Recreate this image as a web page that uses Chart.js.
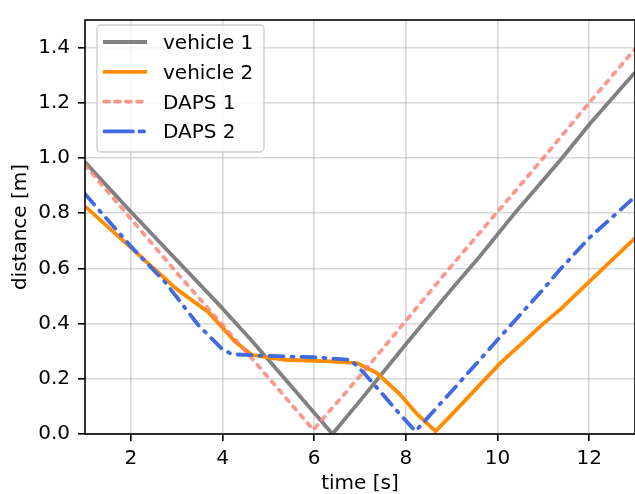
<!DOCTYPE html>
<html>
<head>
<meta charset="utf-8">
<script src="https://cdn.jsdelivr.net/npm/chart.js@4/dist/chart.umd.min.js"></script>
<style>
html,body{margin:0;padding:0;background:#fff;}
#wrap{width:635px;height:494px;position:relative;}
</style>
</head>
<body>
<div id="wrap"><canvas id="c" width="635" height="494"></canvas></div>
<script>
// ---- data ----
const xTicks = [2, 4, 6, 8, 10, 12];
const yTicks = [0.0, 0.2, 0.4, 0.6, 0.8, 1.0, 1.2, 1.4];
const seriesNames = ['vehicle 1', 'vehicle 2', 'DAPS 1', 'DAPS 2'];

const vehicle1Time = [1, 2, 3, 4, 4.6, 5.36, 6.0, 6.4, 7, 8, 9, 9.62, 10.35, 11, 11.36, 12.02, 13];
const vehicle1Dist = [0.985, 0.805, 0.63, 0.455, 0.345, 0.2, 0.077, 0.0, 0.12, 0.325, 0.525, 0.645, 0.795, 0.92, 0.99, 1.125, 1.31];

const vehicle2Time = [1, 2, 3, 3.7, 4.27, 4.64, 5.36, 6.35, 6.93, 7.36, 7.87, 8.24, 8.65, 9, 10.05, 11, 11.36, 12.02, 13];
const vehicle2Dist = [0.825, 0.675, 0.525, 0.44, 0.335, 0.287, 0.269, 0.263, 0.257, 0.222, 0.144, 0.073, 0.01, 0.07, 0.255, 0.4, 0.45, 0.555, 0.71];

const daps1Time = [1, 2, 3, 4, 5, 5.98, 7, 8, 9, 10, 11, 12, 13];
const daps1Dist = [0.975, 0.78, 0.585, 0.395, 0.205, 0.015, 0.21, 0.41, 0.61, 0.805, 1.0, 1.2, 1.395];

const daps2Time = [1, 2, 2.75, 3.47, 3.98, 4.2, 5, 6, 6.79, 7.08, 7.43, 7.8, 8.21, 9, 9.62, 10.02, 11, 11.36, 12, 13];
const daps2Dist = [0.87, 0.68, 0.55, 0.395, 0.31, 0.289, 0.283, 0.278, 0.269, 0.222, 0.156, 0.085, 0.01, 0.155, 0.27, 0.345, 0.525, 0.595, 0.71, 0.86];

// ---- helpers ----
function pts(t, v) { return t.map((x, i) => ({ x: x, y: v[i] })); }

Chart.defaults.font.family = "'DejaVu Sans', sans-serif";
Chart.defaults.color = '#000';

const styles = [
  { color: '#808080', dash: [], cap: 'butt', legendDash: [], lx1: 103, lx2: 147 },
  { color: '#ff8c00', dash: [], cap: 'butt', legendDash: [], lx1: 103, lx2: 147 },
  { color: 'rgba(250,128,114,0.8)', dash: [4, 7], cap: 'round', legendDash: [5, 6], lx1: 104, lx2: 145 },
  { color: '#4169e1', dash: [14, 8, 2, 8], cap: 'round', legendDash: [28.5, 6.5, 4.5, 6.5], lx1: 104.5, lx2: 145 }
];

const seriesData = [
  pts(vehicle1Time, vehicle1Dist),
  pts(vehicle2Time, vehicle2Dist),
  pts(daps1Time, daps1Dist),
  pts(daps2Time, daps2Dist)
];

const datasets = seriesNames.map((name, i) => ({
  label: name,
  data: seriesData[i],
  borderColor: styles[i].color,
  backgroundColor: styles[i].color,
  borderWidth: 3.8,
  borderDash: styles[i].dash,
  borderCapStyle: styles[i].cap,
  borderJoinStyle: 'round',
  pointRadius: 0,
  tension: 0,
  fill: false,
  order: 4 - i
}));

const framePlugin = {
  id: 'frame',
  afterDatasetsDraw(chart) {
    const { ctx, chartArea: a } = chart;
    ctx.save();
    ctx.strokeStyle = '#000';
    ctx.lineWidth = 1.6;
    ctx.strokeRect(a.left, a.top, a.right - a.left, a.bottom - a.top);
    ctx.restore();
  },
  afterDraw(chart) {
    const ctx = chart.ctx;
    ctx.save();
    // legend box
    const bx = 97, by = 25, bw = 167, bh = 127, r = 4;
    ctx.beginPath();
    ctx.moveTo(bx + r, by);
    ctx.arcTo(bx + bw, by, bx + bw, by + bh, r);
    ctx.arcTo(bx + bw, by + bh, bx, by + bh, r);
    ctx.arcTo(bx, by + bh, bx, by, r);
    ctx.arcTo(bx, by, bx + bw, by, r);
    ctx.closePath();
    ctx.fillStyle = 'rgba(255,255,255,0.8)';
    ctx.fill();
    ctx.strokeStyle = '#cccccc';
    ctx.lineWidth = 1.3;
    ctx.stroke();

    chart.data.datasets.forEach((ds, i) => {
      const st = styles[i];
      const yLine = 42 + i * 29.8;
      ctx.beginPath();
      ctx.setLineDash(st.legendDash);
      ctx.lineCap = st.cap;
      ctx.strokeStyle = ds.borderColor;
      ctx.lineWidth = 3.8;
      ctx.moveTo(st.lx1, yLine);
      ctx.lineTo(st.lx2, yLine);
      ctx.stroke();
      ctx.setLineDash([]);
      ctx.fillStyle = '#000';
      ctx.font = "20px 'DejaVu Sans'";
      ctx.textBaseline = 'alphabetic';
      ctx.textAlign = 'left';
      ctx.fillText(ds.label, 163, 49 + i * 29.8);
    });
    ctx.restore();
  }
};

new Chart(document.getElementById('c'), {
  type: 'line',
  data: { datasets: datasets },
  options: {
    responsive: false,
    animation: false,
    devicePixelRatio: 1,
    layout: { padding: { top: 14, left: 0, right: 0, bottom: 0 } },
    plugins: { legend: { display: false }, tooltip: { enabled: false } },
    scales: {
      x: {
        type: 'linear',
        min: 1,
        max: 13,
        afterBuildTicks: (s) => { s.ticks = xTicks.map(v => ({ value: v })); },
        afterFit: (s) => { s.height = 60; },
        ticks: {
          font: { size: 20 },
          color: '#000',
          padding: 6,
          maxRotation: 0,
          callback: (v) => String(v)
        },
        grid: {
          color: 'rgba(176,176,176,0.5)',
          lineWidth: 1.6,
          drawTicks: true,
          tickLength: 7,
          tickColor: '#000',
          tickWidth: 1.6
        },
        border: { display: false },
        title: {
          display: true,
          text: 'time [s]',
          font: { size: 20, lineHeight: 1 },
          color: '#000',
          padding: { top: 0, bottom: 0 }
        }
      },
      y: {
        type: 'linear',
        min: 0,
        max: 1.5,
        afterBuildTicks: (s) => { s.ticks = yTicks.map(v => ({ value: v })); },
        afterFit: (s) => { s.width = 85; },
        ticks: {
          font: { size: 20 },
          color: '#000',
          padding: 8,
          callback: (v) => Number(v).toFixed(1)
        },
        grid: {
          color: 'rgba(176,176,176,0.5)',
          lineWidth: 1.6,
          drawTicks: true,
          tickLength: 7,
          tickColor: '#000',
          tickWidth: 1.6
        },
        border: { display: false },
        title: {
          display: true,
          text: 'distance [m]',
          font: { size: 20, lineHeight: 1 },
          color: '#000',
          padding: { top: 11, bottom: 0 }
        }
      }
    }
  },
  plugins: [framePlugin]
});
</script>
</body>
</html>
